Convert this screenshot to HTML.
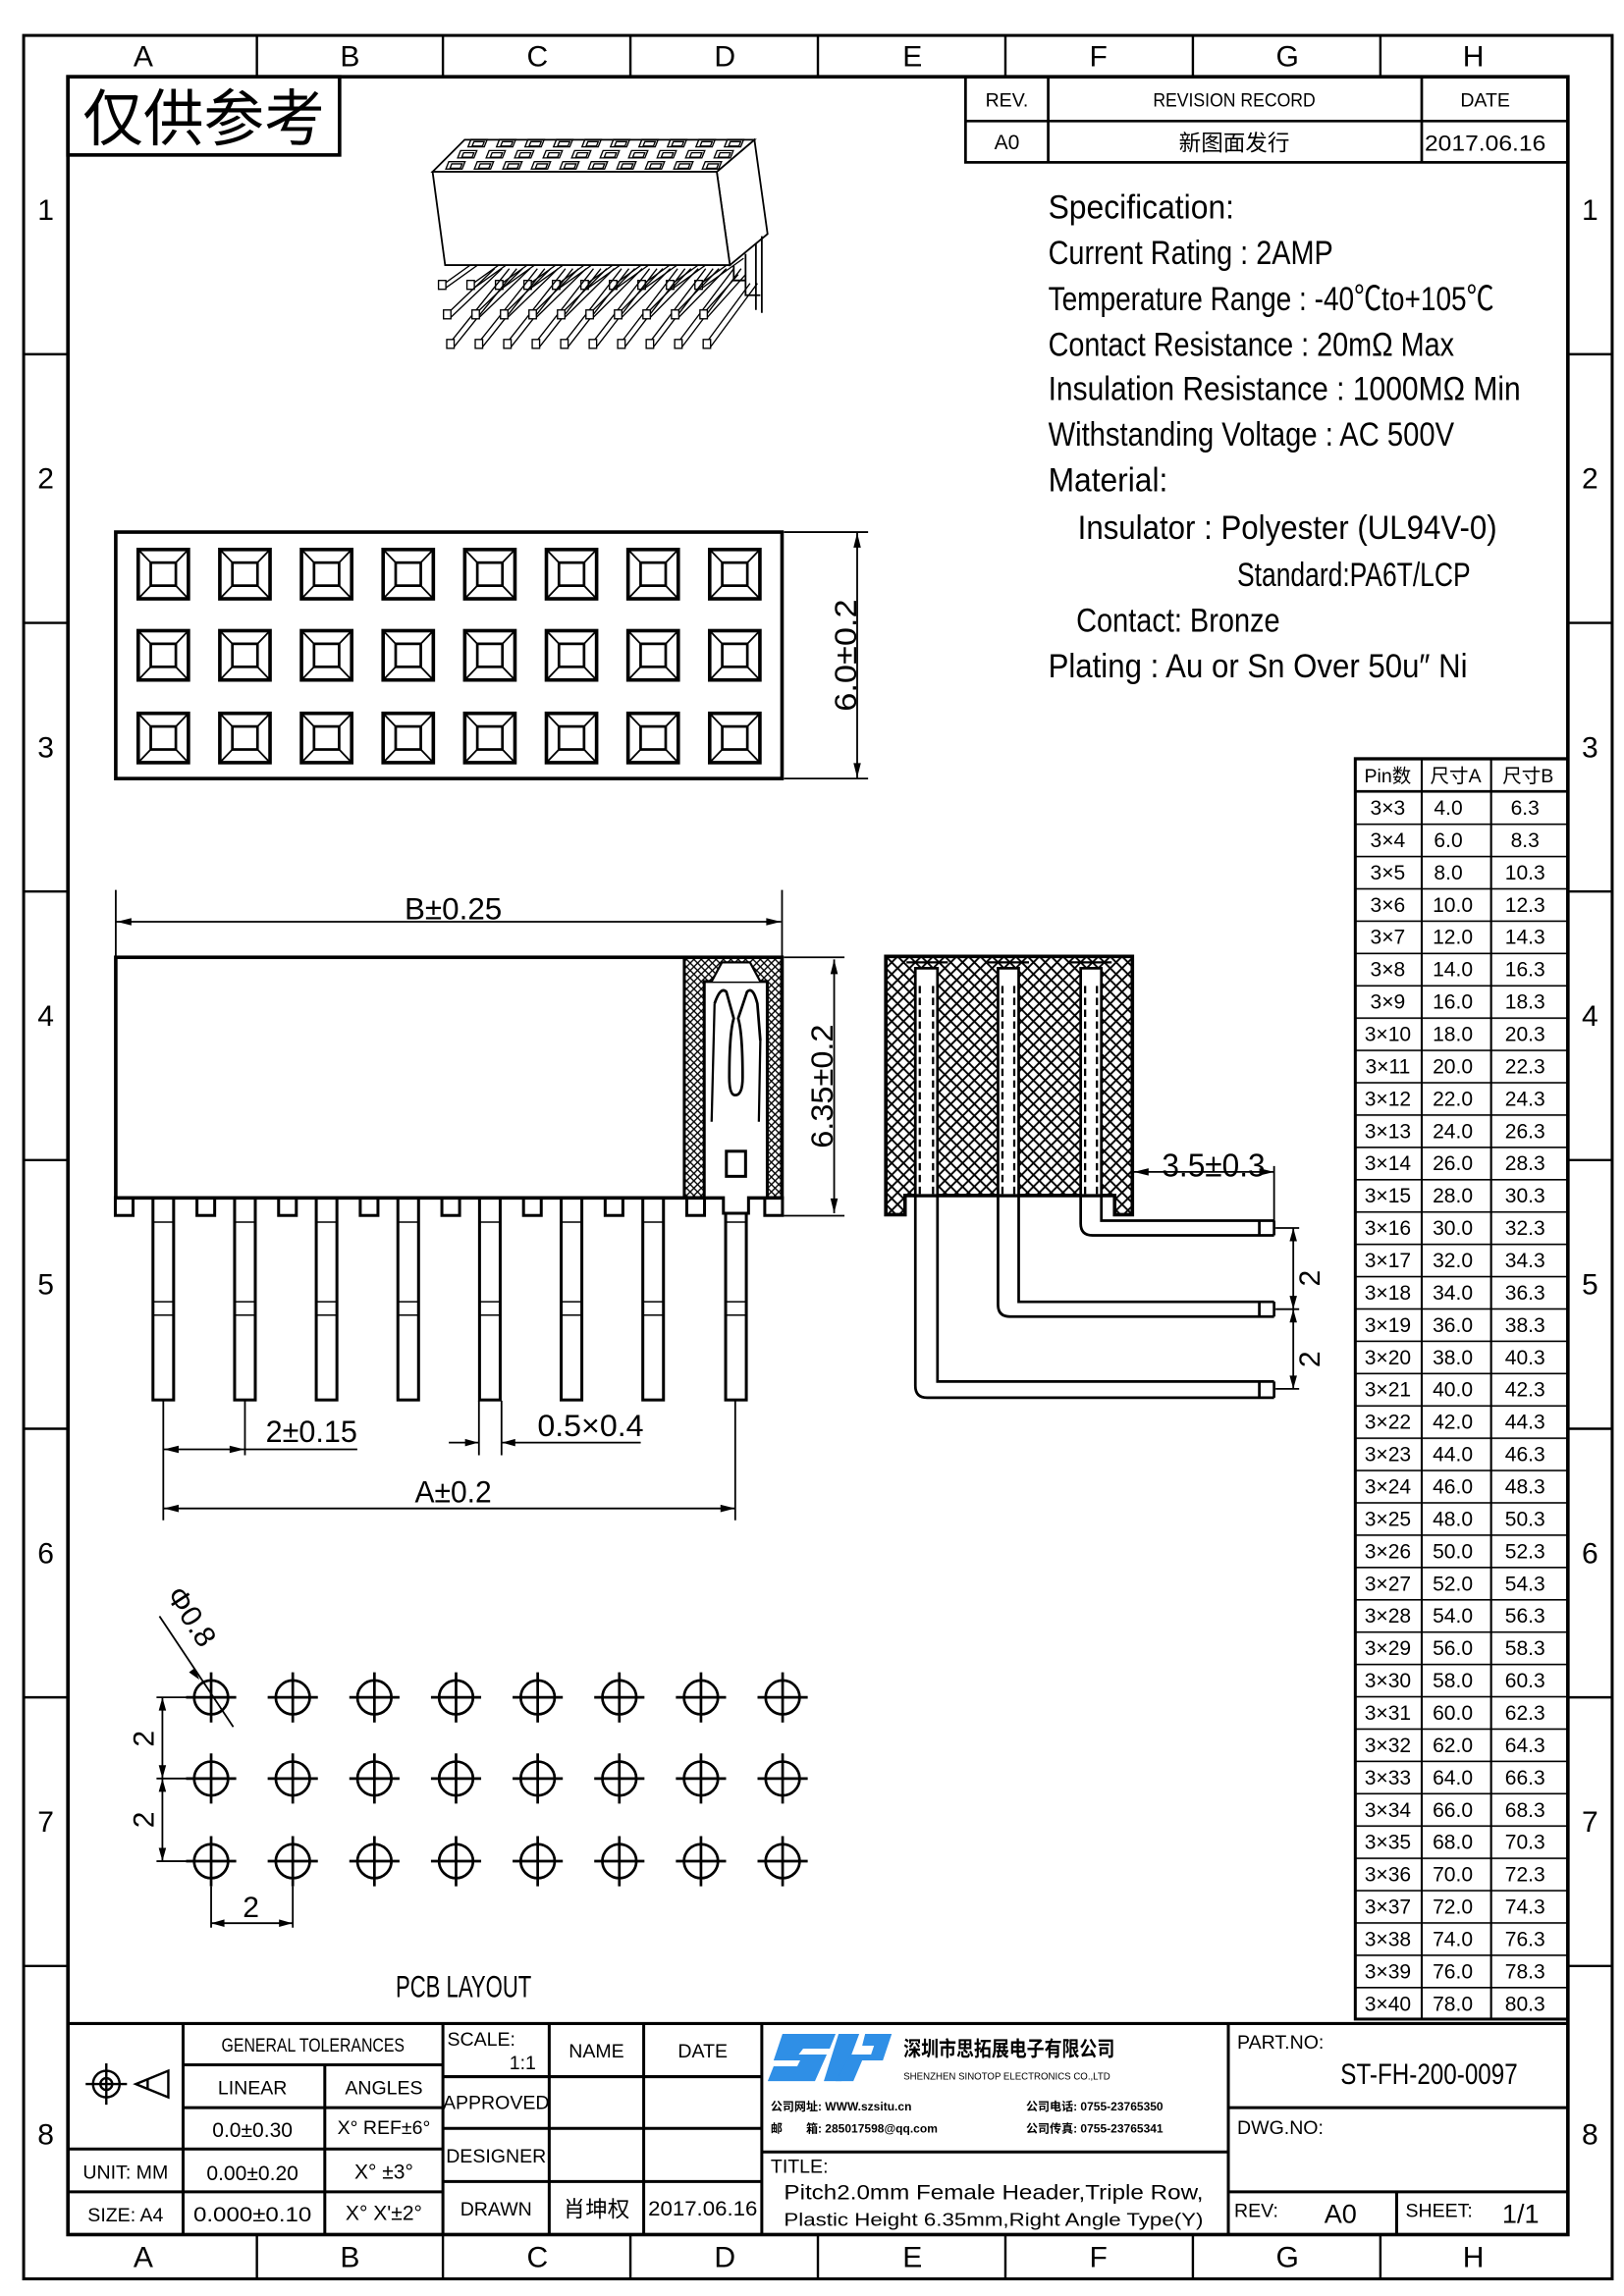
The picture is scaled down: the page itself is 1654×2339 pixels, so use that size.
<!DOCTYPE html>
<html><head><meta charset="utf-8"><style>
html,body{margin:0;padding:0;background:#fff}
svg{display:block}
text{font-family:"Liberation Sans","Noto Sans CJK SC",sans-serif;fill:#000}
.m{font-family:"Liberation Mono","Noto Sans CJK SC",monospace}
</style></head><body>
<svg width="1654" height="2339" viewBox="0 0 1100 1555.6" xmlns="http://www.w3.org/2000/svg">
<defs>
<pattern id="h1" patternUnits="userSpaceOnUse" width="8" height="8"><path d="M0,0L8,8M8,0L0,8" stroke="#000" stroke-width="1.3"/></pattern>
<pattern id="h2" patternUnits="userSpaceOnUse" width="5" height="5"><path d="M0,0L5,5M5,0L0,5" stroke="#000" stroke-width="0.9"/></pattern>
<pattern id="rows" patternUnits="userSpaceOnUse" x="0" y="536" width="200" height="21.895"><line x1="0" y1="0.5" x2="200" y2="0.5" stroke="#000" stroke-width="1.2"/></pattern>
<g id="sq" fill="none" stroke="#000"><rect x="-17" y="-16.7" width="34" height="33.4" stroke-width="2.4"/><rect x="-8.5" y="-7.8" width="17" height="15.6" stroke-width="1.8"/><path d="M-17,-16.7L-8.5,-7.8M17,-16.7L8.5,-7.8M-17,16.7L-8.5,7.8M17,16.7L8.5,7.8" stroke-width="1.2"/></g>
<g id="hole" fill="none" stroke="#000" stroke-width="1.8"><circle r="11.5"/><path d="M-17,0H17M0,-17V17"/></g>
<g id="pin" fill="#fff" stroke="#000"><rect x="-7" y="811.5" width="14" height="137" stroke-width="2"/><path d="M-7,828H7M-7,882H7M-7,891H7" stroke-width="1"/></g>
<rect id="tab" x="-6" y="811.5" width="12" height="12" fill="#fff" stroke="#000" stroke-width="2"/>
<g id="hp" fill="none" stroke="#000" stroke-width="0.9"><path d="M0,-4.5h11l-2,5h-11z"/><path d="M2,-3h7l-1.2,3h-7z"/></g>
<g id="p3" fill="none" stroke="#000" stroke-width="0.9"><path d="M0,0L28,-20M5,0L33,-20"/><rect x="0" y="-5" width="5" height="6" fill="#fff"/></g>
</defs>

<!-- frame -->
<rect x="16" y="24" width="1076" height="1520" fill="none" stroke="#000" stroke-width="2"/>
<rect x="46" y="52" width="1016" height="1462" fill="none" stroke="#000" stroke-width="2.4"/>
<g stroke="#000" stroke-width="1.6">
<path d="M174,24V52M300,24V52M427,24V52M554,24V52M681,24V52M808,24V52M935,24V52"/>
<path d="M174,1514V1544M300,1514V1544M427,1514V1544M554,1514V1544M681,1514V1544M808,1514V1544M935,1514V1544"/>
<path d="M16,240H46M16,422H46M16,604H46M16,786H46M16,968H46M16,1150H46M16,1332H46"/>
<path d="M1062,240H1092M1062,422H1092M1062,604H1092M1062,786H1092M1062,968H1092M1062,1150H1092M1062,1332H1092"/>
</g>
<g font-size="20" text-anchor="middle">
<text x="97" y="45">A</text><text x="237" y="45">B</text><text x="364" y="45">C</text><text x="491" y="45">D</text><text x="618" y="45">E</text><text x="744" y="45">F</text><text x="872" y="45">G</text><text x="998" y="45">H</text>
<text x="97" y="1536">A</text><text x="237" y="1536">B</text><text x="364" y="1536">C</text><text x="491" y="1536">D</text><text x="618" y="1536">E</text><text x="744" y="1536">F</text><text x="872" y="1536">G</text><text x="998" y="1536">H</text>
<text x="31" y="149">1</text><text x="31" y="331">2</text><text x="31" y="513">3</text><text x="31" y="695">4</text><text x="31" y="877">5</text><text x="31" y="1059">6</text><text x="31" y="1241">7</text><text x="31" y="1453">8</text>
<text x="1077" y="149">1</text><text x="1077" y="331">2</text><text x="1077" y="513">3</text><text x="1077" y="695">4</text><text x="1077" y="877">5</text><text x="1077" y="1059">6</text><text x="1077" y="1241">7</text><text x="1077" y="1453">8</text>
</g>

<!-- stamp -->
<rect x="46" y="52" width="184" height="53" fill="none" stroke="#000" stroke-width="2.4"/>
<text x="56" y="95" font-size="42" textLength="164" lengthAdjust="spacingAndGlyphs">仅供参考</text>

<!-- revision -->
<g fill="none" stroke="#000" stroke-width="1.8"><rect x="654" y="52" width="408" height="58"/><path d="M654,82H1062M710,52V110M963,52V110"/></g>
<g font-size="13" text-anchor="middle" class="m">
<text x="682" y="72">REV.</text><text x="836" y="72" textLength="110" lengthAdjust="spacingAndGlyphs">REVISION RECORD</text><text x="1006" y="72">DATE</text>
<text x="682" y="101" font-size="14">A0</text><text x="836" y="102" font-size="15">新图面发行</text><text x="1006" y="102" font-size="15" textLength="82" lengthAdjust="spacingAndGlyphs">2017.06.16</text>
</g>

<!-- specs -->
<g font-size="23">
<text x="710" y="148" textLength="126" lengthAdjust="spacingAndGlyphs">Specification:</text>
<text x="710" y="179" textLength="193" lengthAdjust="spacingAndGlyphs">Current Rating : 2AMP</text>
<text x="710" y="210" textLength="302" lengthAdjust="spacingAndGlyphs">Temperature Range : -40℃to+105℃</text>
<text x="710" y="241" textLength="275" lengthAdjust="spacingAndGlyphs">Contact Resistance : 20mΩ Max</text>
<text x="710" y="271" textLength="320" lengthAdjust="spacingAndGlyphs">Insulation Resistance : 1000MΩ Min</text>
<text x="710" y="302" textLength="275" lengthAdjust="spacingAndGlyphs">Withstanding Voltage : AC 500V</text>
<text x="710" y="333" textLength="81" lengthAdjust="spacingAndGlyphs">Material:</text>
<text x="730" y="365" textLength="284" lengthAdjust="spacingAndGlyphs">Insulator : Polyester (UL94V-0)</text>
<text x="838" y="397" textLength="158" lengthAdjust="spacingAndGlyphs">Standard:PA6T/LCP</text>
<text x="729" y="428" textLength="138" lengthAdjust="spacingAndGlyphs">Contact: Bronze</text>
<text x="710" y="459" textLength="284" lengthAdjust="spacingAndGlyphs">Plating : Au or Sn Over 50u″ Ni</text>
</g>

<!-- 3D view -->
<g fill="#fff" stroke="#000" stroke-width="1.2">
<g>
<use href="#p3" x="297" y="195"/><use href="#p3" x="316.3" y="195"/><use href="#p3" x="335.6" y="195"/><use href="#p3" x="354.9" y="195"/><use href="#p3" x="374.2" y="195"/><use href="#p3" x="393.5" y="195"/><use href="#p3" x="412.8" y="195"/><use href="#p3" x="432.1" y="195"/><use href="#p3" x="451.4" y="195"/><use href="#p3" x="470.7" y="195"/>
</g>
<polygon points="485.5,116.4 511,94.7 519.9,158.5 494.4,179.6"/>
<polygon points="293,116.4 314.7,94.7 511,94.7 485.5,116.4"/>
<polygon points="293,116.4 485.5,116.4 494.4,179.6 301.5,179.6"/>
<path d="M497,180V190h8M505,172V200h10M512,165V210M516,160V212" fill="none"/>
<g fill="none" stroke-width="0.9">
<path d="M300.4,215L335,182M305.4,215L340,182M302.6,235L345,182M307.6,235L350,182"/>
<path d="M319.7,215L354,182M324.7,215L359,182M321.9,235L364,182M326.9,235L369,182"/>
<path d="M339,215L373,182M344,215L378,182M341.2,235L383,182M346.2,235L388,182"/>
<path d="M358.3,215L392,182M363.3,215L397,182M360.5,235L402,182M365.5,235L407,182"/>
<path d="M377.6,215L411,182M382.6,215L416,182M379.8,235L421,182M384.8,235L426,182"/>
<path d="M396.9,215L430,182M401.9,215L435,182M399.1,235L440,182M404.1,235L445,182"/>
<path d="M416.2,215L449,182M421.2,215L454,182M418.4,235L459,182M423.4,235L464,182"/>
<path d="M435.5,215L468,182M440.5,215L473,182M437.7,235L478,182M442.7,235L483,182"/>
<path d="M454.8,215L487,182M459.8,215L492,182M457,235L497,182M462,235L502,182"/>
<path d="M474.1,215L500,186M479.1,215L505,186M476.3,235L508,192M481.3,235L513,192"/>
</g>
<g fill="#fff" stroke-width="0.9">
<rect x="300.4" y="210" width="5" height="6"/><rect x="319.7" y="210" width="5" height="6"/><rect x="339" y="210" width="5" height="6"/><rect x="358.3" y="210" width="5" height="6"/><rect x="377.6" y="210" width="5" height="6"/><rect x="396.9" y="210" width="5" height="6"/><rect x="416.2" y="210" width="5" height="6"/><rect x="435.5" y="210" width="5" height="6"/><rect x="454.8" y="210" width="5" height="6"/><rect x="474.1" y="210" width="5" height="6"/>
<rect x="302.6" y="230" width="5" height="6"/><rect x="321.9" y="230" width="5" height="6"/><rect x="341.2" y="230" width="5" height="6"/><rect x="360.5" y="230" width="5" height="6"/><rect x="379.8" y="230" width="5" height="6"/><rect x="399.1" y="230" width="5" height="6"/><rect x="418.4" y="230" width="5" height="6"/><rect x="437.7" y="230" width="5" height="6"/><rect x="457" y="230" width="5" height="6"/><rect x="476.3" y="230" width="5" height="6"/>
</g>
<g>
<use href="#hp" x="319" y="99"/><use href="#hp" x="338.3" y="99"/><use href="#hp" x="357.6" y="99"/><use href="#hp" x="376.9" y="99"/><use href="#hp" x="396.2" y="99"/><use href="#hp" x="415.5" y="99"/><use href="#hp" x="434.8" y="99"/><use href="#hp" x="454.1" y="99"/><use href="#hp" x="473.4" y="99"/><use href="#hp" x="492.7" y="99"/>
<use href="#hp" x="312" y="106.5"/><use href="#hp" x="331.3" y="106.5"/><use href="#hp" x="350.6" y="106.5"/><use href="#hp" x="369.9" y="106.5"/><use href="#hp" x="389.2" y="106.5"/><use href="#hp" x="408.5" y="106.5"/><use href="#hp" x="427.8" y="106.5"/><use href="#hp" x="447.1" y="106.5"/><use href="#hp" x="466.4" y="106.5"/><use href="#hp" x="485.7" y="106.5"/>
<use href="#hp" x="304" y="114"/><use href="#hp" x="323.3" y="114"/><use href="#hp" x="342.6" y="114"/><use href="#hp" x="361.9" y="114"/><use href="#hp" x="381.2" y="114"/><use href="#hp" x="400.5" y="114"/><use href="#hp" x="419.8" y="114"/><use href="#hp" x="439.1" y="114"/><use href="#hp" x="458.4" y="114"/><use href="#hp" x="477.7" y="114"/>
</g>
</g>

<!-- top view -->
<rect x="78.4" y="360.5" width="451.3" height="167" fill="none" stroke="#000" stroke-width="2.4"/>
<g>
<use href="#sq" x="110.6" y="389"/><use href="#sq" x="165.9" y="389"/><use href="#sq" x="221.2" y="389"/><use href="#sq" x="276.5" y="389"/><use href="#sq" x="331.8" y="389"/><use href="#sq" x="387.1" y="389"/><use href="#sq" x="442.4" y="389"/><use href="#sq" x="497.7" y="389"/>
<use href="#sq" x="110.6" y="444"/><use href="#sq" x="165.9" y="444"/><use href="#sq" x="221.2" y="444"/><use href="#sq" x="276.5" y="444"/><use href="#sq" x="331.8" y="444"/><use href="#sq" x="387.1" y="444"/><use href="#sq" x="442.4" y="444"/><use href="#sq" x="497.7" y="444"/>
<use href="#sq" x="110.6" y="500"/><use href="#sq" x="165.9" y="500"/><use href="#sq" x="221.2" y="500"/><use href="#sq" x="276.5" y="500"/><use href="#sq" x="331.8" y="500"/><use href="#sq" x="387.1" y="500"/><use href="#sq" x="442.4" y="500"/><use href="#sq" x="497.7" y="500"/>
</g>
<g stroke="#000" stroke-width="1.2" fill="none"><path d="M531,360.5H588M531,527.5H588M580.6,361V527"/></g>
<path d="M580.6,361l-2.5,10h5zM580.6,527l-2.5,-10h5z" fill="#000"/>
<text transform="translate(580,444) rotate(-90)" font-size="21" text-anchor="middle" textLength="76" lengthAdjust="spacingAndGlyphs">6.0±0.2</text>

<!-- front view -->
<g stroke="#000" stroke-width="1.2" fill="none"><path d="M78.4,603V648M529.7,603V648M79,624.5H529"/></g>
<path d="M79,624.5l10,-2.5v5zM529,624.5l-10,-2.5v5z" fill="#000"/>
<text x="307" y="623" font-size="21" text-anchor="middle" textLength="66" lengthAdjust="spacingAndGlyphs">B±0.25</text>
<g>
<use href="#tab" x="84.1"/><use href="#tab" x="139.4"/><use href="#tab" x="194.7"/><use href="#tab" x="250"/><use href="#tab" x="305.3"/><use href="#tab" x="360.6"/><use href="#tab" x="415.9"/><use href="#tab" x="471.2"/><use href="#tab" x="524"/>
<use href="#pin" x="110.6"/><use href="#pin" x="165.9"/><use href="#pin" x="221.2"/><use href="#pin" x="276.5"/><use href="#pin" x="331.8"/><use href="#pin" x="387.1"/><use href="#pin" x="442.4"/><use href="#pin" x="498.5"/>
</g>
<rect x="78.4" y="648.6" width="451.3" height="163" fill="#fff" stroke="#000" stroke-width="2.4"/>
<rect x="463.5" y="648.6" width="66.2" height="163" fill="url(#h2)" stroke="#000" stroke-width="2"/>
<path d="M477,811.5V665H519.7V811.5H507V822H490V811.5Z" fill="#fff" stroke="#000" stroke-width="2"/>
<path d="M482,665L489,652H508L515,665" fill="#fff" stroke="#000" stroke-width="1.5"/>
<path d="M484,680Q488,668 492,672L497,690Q494,700 494,730Q494,742 498,742Q503,742 503,730Q503,700 500,690L506,672Q510,668 513,680L515,705" fill="none" stroke="#000" stroke-width="1.8"/>
<path d="M484,680L482,760M515,705L514,760" fill="none" stroke="#000" stroke-width="1.5"/>
<rect x="492" y="780" width="13" height="17" fill="none" stroke="#000" stroke-width="2"/>
<g stroke="#000" stroke-width="1.2" fill="none"><path d="M531,648.6H572M531,823.7H572M565,650V822"/></g>
<path d="M565,650l-2.5,10h5zM565,822l-2.5,-10h5z" fill="#000"/>
<text transform="translate(564,736) rotate(-90)" font-size="21" text-anchor="middle" textLength="84" lengthAdjust="spacingAndGlyphs">6.35±0.2</text>
<!-- bottom dims -->
<g stroke="#000" stroke-width="1.2" fill="none">
<path d="M110.6,949V1030M165.9,949V986M111,982H242M324.4,949V986M339.7,949V986M304,977.4H324M340,977.4H434M111,1022H498M498,949V1030"/>
</g>
<path d="M111,982l10,-2.5v5zM165.5,982l-10,-2.5v5zM324,977.4l-9,-2.5v5zM340,977.4l9,-2.5v5zM111,1022l10,-2.5v5zM498,1022l-10,-2.5v5z" fill="#000"/>
<text x="211" y="977" font-size="21" text-anchor="middle" textLength="62" lengthAdjust="spacingAndGlyphs">2±0.15</text>
<text x="400" y="973" font-size="21" text-anchor="middle" textLength="72" lengthAdjust="spacingAndGlyphs">0.5×0.4</text>
<text x="307" y="1018" font-size="21" text-anchor="middle" textLength="52" lengthAdjust="spacingAndGlyphs">A±0.2</text>

<!-- side view -->
<path d="M600,648H767V823H755V810H613V823H600Z" fill="url(#h1)" stroke="#000" stroke-width="2.4"/>
<g fill="#fff" stroke="#000" stroke-width="1.8">
<rect x="620" y="656" width="15" height="154"/><rect x="676" y="656" width="14" height="154"/><rect x="732" y="656" width="14" height="154"/>
</g>
<path d="M614,652H642M669,652H697M725,652H753" stroke="#000" stroke-width="1.5"/>
<g stroke="#000" stroke-width="1.5" stroke-dasharray="5,3" fill="none">
<path d="M623,668V810M632,668V810M679,668V810M687,668V810M735,668V810M743,668V810"/>
</g>
<path d="M613,810H755" stroke="#000" stroke-width="2"/>
<g stroke="#000" stroke-width="1.8" fill="none">
<path d="M746,810V827H863M732,810V829Q732,837 740,837H863"/>
<path d="M690,810V882H863M676,810V884Q676,892 684,892H863"/>
<path d="M635,810V936H863M620,810V939Q620,947 628,947H863"/>
<path d="M853,827V837M853,882V892M853,936V947M863,827V837M863,882V892M863,936V947"/>
</g>
<g stroke="#000" stroke-width="1.2" fill="none"><path d="M768,794H863M863,790V827M864,832H880M864,887H880M864,941H880M876,832V941"/></g>
<path d="M768,794l10,-2.5v5zM863,794l-10,-2.5v5zM876,832l-2.5,9h5zM876,887l-2.5,-9h5zM876,887l-2.5,9h5zM876,941l-2.5,-9h5z" fill="#000"/>
<text x="822" y="797" font-size="22" text-anchor="middle" textLength="70" lengthAdjust="spacingAndGlyphs">3.5±0.3</text>
<text transform="translate(894,866) rotate(-90)" font-size="20" text-anchor="middle">2</text>
<text transform="translate(894,921) rotate(-90)" font-size="20" text-anchor="middle">2</text>

<!-- PCB layout -->
<g>
<use href="#hole" x="143" y="1150"/><use href="#hole" x="198.3" y="1150"/><use href="#hole" x="253.6" y="1150"/><use href="#hole" x="308.9" y="1150"/><use href="#hole" x="364.2" y="1150"/><use href="#hole" x="419.5" y="1150"/><use href="#hole" x="474.8" y="1150"/><use href="#hole" x="530.1" y="1150"/>
<use href="#hole" x="143" y="1205"/><use href="#hole" x="198.3" y="1205"/><use href="#hole" x="253.6" y="1205"/><use href="#hole" x="308.9" y="1205"/><use href="#hole" x="364.2" y="1205"/><use href="#hole" x="419.5" y="1205"/><use href="#hole" x="474.8" y="1205"/><use href="#hole" x="530.1" y="1205"/>
<use href="#hole" x="143" y="1261"/><use href="#hole" x="198.3" y="1261"/><use href="#hole" x="253.6" y="1261"/><use href="#hole" x="308.9" y="1261"/><use href="#hole" x="364.2" y="1261"/><use href="#hole" x="419.5" y="1261"/><use href="#hole" x="474.8" y="1261"/><use href="#hole" x="530.1" y="1261"/>
</g>
<g stroke="#000" stroke-width="1.2" fill="none">
<path d="M106,1150H126M106,1205H126M106,1261H126M110,1150V1261M143,1278V1306M198.3,1278V1306M143,1303H198"/>
<path d="M108,1095L158,1170"/>
</g>
<path d="M110,1150l-2.5,9h5zM110,1205l-2.5,-9h5zM110,1205l-2.5,9h5zM110,1261l-2.5,-9h5zM143,1303l9,-2.5v5zM198,1303l-9,-2.5v5zM135,1138l-7,-5l4,-3z" fill="#000"/>
<text transform="translate(104,1178) rotate(-90)" font-size="20" text-anchor="middle">2</text>
<text transform="translate(104,1233) rotate(-90)" font-size="20" text-anchor="middle">2</text>
<text x="170" y="1299" font-size="20" text-anchor="middle">2</text>
<text transform="translate(124,1099) rotate(57)" font-size="20" text-anchor="middle">Φ0.8</text>
<text x="314" y="1353" font-size="21" text-anchor="middle" textLength="92" lengthAdjust="spacingAndGlyphs">PCB LAYOUT</text>

<!-- pin table -->
<rect x="918" y="514" width="144" height="854" fill="url(#rows)"/>
<g fill="none" stroke="#000" stroke-width="1.4"><rect x="918" y="514" width="144" height="854" stroke-width="2"/><path d="M918,536H1062M963,514V1368M1010,514V1368"/></g>
<g font-size="13" text-anchor="middle">
<text x="940" y="530">Pin数</text><text x="986" y="530">尺寸A</text><text x="1035" y="530">尺寸B</text>
</g>
<g font-size="14" text-anchor="middle" class="m">
<text x="940" y="552">3×3</text><text x="981" y="552">4.0</text><text x="1033" y="552">6.3</text>
<text x="940" y="573.9">3×4</text><text x="981" y="573.9">6.0</text><text x="1033" y="573.9">8.3</text>
<text x="940" y="595.8">3×5</text><text x="981" y="595.8">8.0</text><text x="1033" y="595.8">10.3</text>
<text x="940" y="617.7">3×6</text><text x="984" y="617.7">10.0</text><text x="1033" y="617.7">12.3</text>
<text x="940" y="639.6">3×7</text><text x="984" y="639.6">12.0</text><text x="1033" y="639.6">14.3</text>
<text x="940" y="661.5">3×8</text><text x="984" y="661.5">14.0</text><text x="1033" y="661.5">16.3</text>
<text x="940" y="683.4">3×9</text><text x="984" y="683.4">16.0</text><text x="1033" y="683.4">18.3</text>
<text x="940" y="705.3">3×10</text><text x="984" y="705.3">18.0</text><text x="1033" y="705.3">20.3</text>
<text x="940" y="727.2">3×11</text><text x="984" y="727.2">20.0</text><text x="1033" y="727.2">22.3</text>
<text x="940" y="749.1">3×12</text><text x="984" y="749.1">22.0</text><text x="1033" y="749.1">24.3</text>
<text x="940" y="771">3×13</text><text x="984" y="771">24.0</text><text x="1033" y="771">26.3</text>
<text x="940" y="792.9">3×14</text><text x="984" y="792.9">26.0</text><text x="1033" y="792.9">28.3</text>
<text x="940" y="814.8">3×15</text><text x="984" y="814.8">28.0</text><text x="1033" y="814.8">30.3</text>
<text x="940" y="836.7">3×16</text><text x="984" y="836.7">30.0</text><text x="1033" y="836.7">32.3</text>
<text x="940" y="858.6">3×17</text><text x="984" y="858.6">32.0</text><text x="1033" y="858.6">34.3</text>
<text x="940" y="880.5">3×18</text><text x="984" y="880.5">34.0</text><text x="1033" y="880.5">36.3</text>
<text x="940" y="902.4">3×19</text><text x="984" y="902.4">36.0</text><text x="1033" y="902.4">38.3</text>
<text x="940" y="924.3">3×20</text><text x="984" y="924.3">38.0</text><text x="1033" y="924.3">40.3</text>
<text x="940" y="946.2">3×21</text><text x="984" y="946.2">40.0</text><text x="1033" y="946.2">42.3</text>
<text x="940" y="968.1">3×22</text><text x="984" y="968.1">42.0</text><text x="1033" y="968.1">44.3</text>
<text x="940" y="990">3×23</text><text x="984" y="990">44.0</text><text x="1033" y="990">46.3</text>
<text x="940" y="1011.9">3×24</text><text x="984" y="1011.9">46.0</text><text x="1033" y="1011.9">48.3</text>
<text x="940" y="1033.8">3×25</text><text x="984" y="1033.8">48.0</text><text x="1033" y="1033.8">50.3</text>
<text x="940" y="1055.7">3×26</text><text x="984" y="1055.7">50.0</text><text x="1033" y="1055.7">52.3</text>
<text x="940" y="1077.6">3×27</text><text x="984" y="1077.6">52.0</text><text x="1033" y="1077.6">54.3</text>
<text x="940" y="1099.5">3×28</text><text x="984" y="1099.5">54.0</text><text x="1033" y="1099.5">56.3</text>
<text x="940" y="1121.4">3×29</text><text x="984" y="1121.4">56.0</text><text x="1033" y="1121.4">58.3</text>
<text x="940" y="1143.3">3×30</text><text x="984" y="1143.3">58.0</text><text x="1033" y="1143.3">60.3</text>
<text x="940" y="1165.2">3×31</text><text x="984" y="1165.2">60.0</text><text x="1033" y="1165.2">62.3</text>
<text x="940" y="1187.1">3×32</text><text x="984" y="1187.1">62.0</text><text x="1033" y="1187.1">64.3</text>
<text x="940" y="1209">3×33</text><text x="984" y="1209">64.0</text><text x="1033" y="1209">66.3</text>
<text x="940" y="1230.9">3×34</text><text x="984" y="1230.9">66.0</text><text x="1033" y="1230.9">68.3</text>
<text x="940" y="1252.8">3×35</text><text x="984" y="1252.8">68.0</text><text x="1033" y="1252.8">70.3</text>
<text x="940" y="1274.7">3×36</text><text x="984" y="1274.7">70.0</text><text x="1033" y="1274.7">72.3</text>
<text x="940" y="1296.6">3×37</text><text x="984" y="1296.6">72.0</text><text x="1033" y="1296.6">74.3</text>
<text x="940" y="1318.5">3×38</text><text x="984" y="1318.5">74.0</text><text x="1033" y="1318.5">76.3</text>
<text x="940" y="1340.4">3×39</text><text x="984" y="1340.4">76.0</text><text x="1033" y="1340.4">78.3</text>
<text x="940" y="1362.3">3×40</text><text x="984" y="1362.3">78.0</text><text x="1033" y="1362.3">80.3</text>
</g>

<!-- title block -->
<g fill="none" stroke="#000" stroke-width="2">
<path d="M46,1371H1062"/>
<path d="M124,1371V1514M300,1371V1514M372,1371V1514M436,1371V1514M516,1371V1514M832,1371V1514"/>
<path d="M124,1399H300M124,1428H300M46,1456H300M46,1485H300M220,1399V1514"/>
<path d="M300,1407H516M300,1442H516M300,1478H516"/>
<path d="M516,1458H832M832,1428H1062M832,1485H1062M946,1485V1514"/>
</g>
<g stroke="#000" stroke-width="1.6" fill="none">
<circle cx="72" cy="1412" r="9"/><circle cx="72" cy="1412" r="4"/><path d="M58,1412H86M72,1398V1426M92,1412L114,1403V1421Z"/><path d="M100,1409V1415"/>
</g>
<g font-size="13" text-anchor="middle" class="m">
<text x="212" y="1390" textLength="124" lengthAdjust="spacingAndGlyphs">GENERAL TOLERANCES</text>
<text x="171" y="1419">LINEAR</text><text x="260" y="1419">ANGLES</text>
<text x="171" y="1448" font-size="14">0.0±0.30</text><text x="260" y="1446" font-size="13">X° REF±6°</text>
<text x="171" y="1477" font-size="14">0.00±0.20</text><text x="260" y="1476" font-size="14">X° ±3°</text>
<text x="171" y="1505" font-size="14" textLength="80" lengthAdjust="spacingAndGlyphs">0.000±0.10</text><text x="260" y="1504" font-size="14">X° X'±2°</text>
<text x="85" y="1476">UNIT: MM</text><text x="85" y="1505">SIZE: A4</text>
<text x="326" y="1386">SCALE:</text><text x="354" y="1402">1:1</text>
<text x="404" y="1394">NAME</text><text x="476" y="1394">DATE</text>
<text x="336" y="1429">APPROVED</text><text x="336" y="1465">DESIGNER</text><text x="336" y="1501">DRAWN</text>
<text x="404" y="1502" font-size="15">肖坤权</text><text x="476" y="1501" font-size="14" textLength="74" lengthAdjust="spacingAndGlyphs">2017.06.16</text>
</g>
<!-- logo -->
<path d="M530,1378H566L562,1388H544L541,1392H560L552,1410H520L524,1400H540L542,1396H524Z" fill="#2f8fe6"/>
<path d="M568,1378H582L570,1410H558Z" fill="#2f8fe6"/>
<path d="M586,1378H604L598,1396H584L578,1410H566L576,1392H590L592,1386H584Z" fill="#2f8fe6"/>
<text x="612" y="1393" font-size="14" textLength="143" lengthAdjust="spacingAndGlyphs" font-weight="bold">深圳市思拓展电子有限公司</text>
<text x="612" y="1409" font-size="7" textLength="140" lengthAdjust="spacingAndGlyphs">SHENZHEN SINOTOP ELECTRONICS CO.,LTD</text>
<g font-size="8">
<text x="522" y="1430" font-weight="bold">公司网址: WWW.szsitu.cn</text>
<text x="695" y="1430" font-weight="bold">公司电话: 0755-23765350</text>
<text x="522" y="1445" font-weight="bold">邮　　箱: 285017598@qq.com</text>
<text x="695" y="1445" font-weight="bold">公司传真: 0755-23765341</text>
</g>
<g class="m">
<text x="522" y="1472" font-size="13">TITLE:</text>
<text x="531" y="1490" font-size="14" textLength="284" lengthAdjust="spacingAndGlyphs">Pitch2.0mm Female Header,Triple Row,</text>
<text x="531" y="1508" font-size="12" textLength="284" lengthAdjust="spacingAndGlyphs">Plastic Height 6.35mm,Right Angle Type(Y)</text>
<text x="838" y="1388" font-size="13">PART.NO:</text>
<text x="968" y="1412" font-size="20" text-anchor="middle" textLength="120" lengthAdjust="spacingAndGlyphs">ST-FH-200-0097</text>
<text x="838" y="1446" font-size="13">DWG.NO:</text>
<text x="836" y="1502" font-size="13">REV:</text><text x="908" y="1506" font-size="18" text-anchor="middle">A0</text>
<text x="952" y="1502" font-size="13">SHEET:</text><text x="1030" y="1506" font-size="18" text-anchor="middle">1/1</text>
</g>
</svg>
</body></html>
